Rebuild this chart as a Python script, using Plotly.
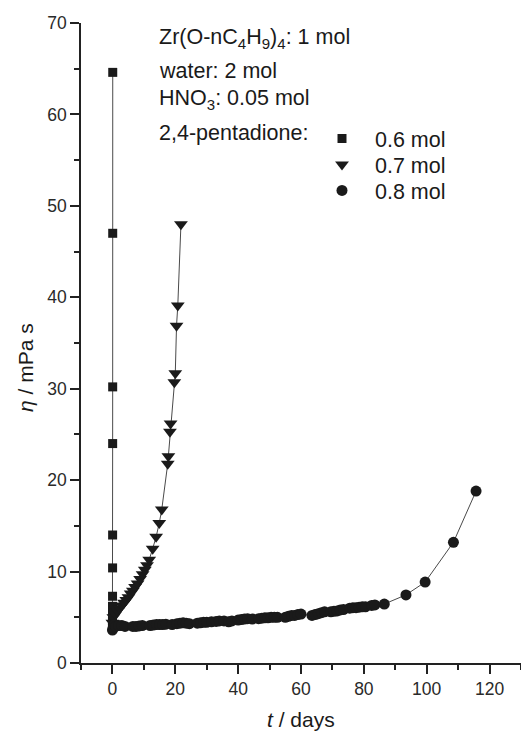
import plotly.graph_objects as go

# Viscosity vs. ageing time for three 2,4-pentadione contents
t_06 = [0.0, 0.01, 0.02, 0.03, 0.04, 0.05, 0.06, 0.07, 0.08, 0.09, 0.10]
eta_06 = [3.9, 4.6, 5.4, 6.2, 7.3, 10.4, 14.0, 24.0, 30.2, 47.0, 64.6]

t_07 = [0.0, 0.3, 0.9, 1.6, 2.3, 3.0, 3.7, 4.4, 5.1, 5.8, 6.5, 7.2, 8.0,
        8.8, 9.6, 10.3, 11.0, 11.7, 12.8, 13.9, 14.9, 15.7, 17.6, 17.8,
        18.3, 18.5, 19.7, 20.0, 20.4, 20.8, 21.8]
eta_07 = [4.4, 5.0, 5.3, 5.7, 6.0, 6.3, 6.6, 6.9, 7.2, 7.6, 7.9, 8.3, 8.7,
          9.2, 9.7, 10.2, 10.7, 11.3, 12.5, 13.8, 15.3, 16.8, 21.8, 22.6,
          25.3, 26.2, 30.7, 31.7, 36.9, 39.1, 48.0]

t_08 = [0.0, 0.3, 0.6, 1.0, 2.0, 3.0, 4.0, 6.5, 7.5, 8.5, 9.5, 12.0, 13.0,
        14.0, 15.0, 16.0, 17.0, 19.0, 20.5, 21.5, 22.5, 23.5, 24.5, 27.0,
        28.0, 29.0, 30.0, 31.5, 33.0, 34.0, 35.5, 37.0, 38.0, 40.0, 41.0,
        42.0, 43.0, 44.5, 46.5, 47.5, 48.5, 49.5, 50.5, 51.5, 52.5, 55.0,
        56.0, 57.0, 58.0, 59.0, 60.0, 63.5, 64.5, 65.5, 66.5, 67.5, 69.5,
        70.5, 71.5, 72.5, 73.5, 75.5, 76.5, 77.5, 78.5, 79.5, 80.5, 82.5,
        83.5, 86.5, 93.4, 99.5, 108.5, 115.7]
eta_08 = [3.6, 3.9, 4.2, 4.0, 4.1, 4.1, 4.0, 4.0, 4.0, 4.05, 4.1, 4.1, 4.15,
          4.2, 4.2, 4.2, 4.25, 4.2, 4.3, 4.35, 4.4, 4.35, 4.3, 4.35,
          4.4, 4.45, 4.45, 4.5, 4.55, 4.6, 4.6, 4.5, 4.6, 4.7, 4.75,
          4.8, 4.85, 4.8, 4.85, 4.9, 4.95, 4.95, 5.0, 5.0, 5.0, 5.0,
          5.1, 5.2, 5.2, 5.3, 5.35, 5.2, 5.3, 5.4, 5.5, 5.6, 5.6,
          5.65, 5.7, 5.8, 5.85, 6.0, 6.05, 6.05, 6.1, 6.15, 6.15, 6.3,
          6.35, 6.45, 7.45, 8.85, 13.2, 18.8]

series = [
    ("0.6 mol", t_06, eta_06, "square", 9),
    ("0.7 mol", t_07, eta_07, "triangle-down", 12),
    ("0.8 mol", t_08, eta_08, "circle", 11),
]

FONT = "Liberation Sans, Arial, Helvetica, sans-serif"
INK = "#1a1a1a"
LINE = "#4a4a4a"

L, R, T, B = 81, 0, 23, 70
W, H = 521, 733
pw, ph = W - L - R, H - T - B


def px_x(p):
    return (p - L) / pw


def px_y(p):
    return (H - B - p) / ph


# one key per series, stacked under the "2,4-pentadione:" label
key_rows = [140, 166, 192]
legend_ids = ["legend", "legend2", "legend3"]

fig = go.Figure()
for (name, xs, ys, sym, sz), lid in zip(series, legend_ids):
    fig.add_trace(go.Scatter(
        x=xs, y=ys, mode="lines+markers", showlegend=False,
        line=dict(color=LINE, width=1),
        marker=dict(symbol=sym, size=sz, color=INK, line=dict(width=0)),
    ))
    # marker-only entry for the key
    fig.add_trace(go.Scatter(
        x=[None], y=[None], mode="markers", name=name, legend=lid,
        marker=dict(symbol=sym, size=sz, color=INK, line=dict(width=0)),
    ))

axis_common = dict(
    showline=True, linecolor="#222222", linewidth=1.5,
    ticks="outside", ticklen=9, tickwidth=1.5, tickcolor="#222222",
    showgrid=False, zeroline=False,
    tickfont=dict(family=FONT, size=17.5, color="#2a2a2a"),
)

fig.update_xaxes(
    range=[-10, 130], tick0=0, dtick=20,
    minor=dict(dtick=10, tick0=0, ticklen=5, tickwidth=1.5,
               tickcolor="#222222", ticks="outside", showgrid=False),
    **axis_common,
)
fig.update_yaxes(
    range=[0, 70], tick0=0, dtick=10,
    minor=dict(dtick=5, tick0=0, ticklen=5, tickwidth=1.5,
               tickcolor="#222222", ticks="outside", showgrid=False),
    **axis_common,
)

TXT = 21.5
text_font = dict(family=FONT, size=TXT, color=INK)
info_lines = [
    ("Zr(O-nC<sub>4</sub>H<sub>9</sub>)<sub>4</sub>: 1 mol", 38),
    ("water: 2 mol", 71),
    ("HNO<sub>3</sub>: 0.05 mol", 99),
    ("2,4-pentadione:", 133),
]
annotations = []
for txt, yp in info_lines:
    annotations.append(dict(
        text=txt, xref="paper", yref="paper", x=px_x(157), y=px_y(yp),
        xanchor="left", yanchor="middle", showarrow=False, font=text_font,
    ))

annotations.append(dict(
    text="<i>t</i> / days", xref="paper", yref="paper",
    x=px_x(301), y=px_y(719), xanchor="center", yanchor="middle",
    showarrow=False, font=dict(family=FONT, size=21, color=INK),
))
annotations.append(dict(
    text="<i>η</i> / mPa s", xref="paper", yref="paper",
    x=px_x(25), y=px_y(368), xanchor="center", yanchor="middle",
    textangle=-90, showarrow=False,
    font=dict(family=FONT, size=21, color=INK),
))

legend_style = dict(
    xanchor="left", yanchor="top",
    bgcolor="rgba(0,0,0,0)", borderwidth=0,
    font=dict(family=FONT, size=TXT, color=INK),
    itemwidth=56,
)
layout_legends = {}
for lid, row in zip(legend_ids, key_rows):
    layout_legends[lid] = dict(x=px_x(309), y=px_y(row - 22), **legend_style)

fig.update_layout(
    width=W, height=H,
    margin=dict(l=L, r=R, t=T, b=B, pad=0),
    paper_bgcolor="white", plot_bgcolor="white",
    font=dict(family=FONT, color=INK),
    annotations=annotations,
    **layout_legends,
)

fig.write_html("out.html")
